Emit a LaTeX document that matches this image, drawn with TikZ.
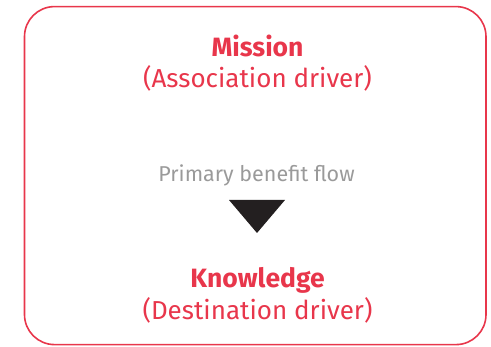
\documentclass[tikz,border=0pt]{standalone}
\usepackage{fontspec}
\setmainfont{Fira Sans}
\usepackage{tikz}
\usetikzlibrary{calc}
\definecolor{drivercolor}{HTML}{E8364B}
\definecolor{flowcolor}{HTML}{9A9A9A}
\definecolor{arrowcolor}{HTML}{231F20}
\newcommand{\boxwidth}{1.6pt}
\newcommand{\drivesize}{\fontsize{26}{30}\selectfont}
\newcommand{\namesize}{\fontsize{26.5}{30}\selectfont}
\newcommand{\flowsize}{\fontsize{21.5}{25}\selectfont}

\begin{document}
\begin{tikzpicture}[x=1pt,y=1pt]
\useasboundingbox (0,0) rectangle (491,347);
\tikzset{driver/.style={text=drivercolor, anchor=base, inner sep=0pt}}
\node[draw=drivercolor, line width=\boxwidth, rounded corners=30pt, minimum width=461.5pt, minimum height=338pt, inner sep=0pt] (frame) at (255.25,171.4) {};
\node[driver] (mission) at (257.5,347-57) {\namesize\bfseries Mission};
\node[driver] (assoc) at (257.5,347-88) {\drivesize (Association driver)};
\node[text=flowcolor, anchor=base, inner sep=0pt] (flow) at (256.5,347-182) {\flowsize Primary benefit flow};
\coordinate (tl) at (229,347-200);
\coordinate (tr) at (285,347-200);
\coordinate (tip) at (257,347-233);
\fill[arrowcolor] (tl) -- (tr) -- (tip) -- cycle;
\node[driver] (know) at (257.5,347-288) {\namesize\bfseries Knowledge};
\node[driver] (dest) at (257.5,347-320) {\drivesize (Destination driver)};
\end{tikzpicture}
\end{document}
